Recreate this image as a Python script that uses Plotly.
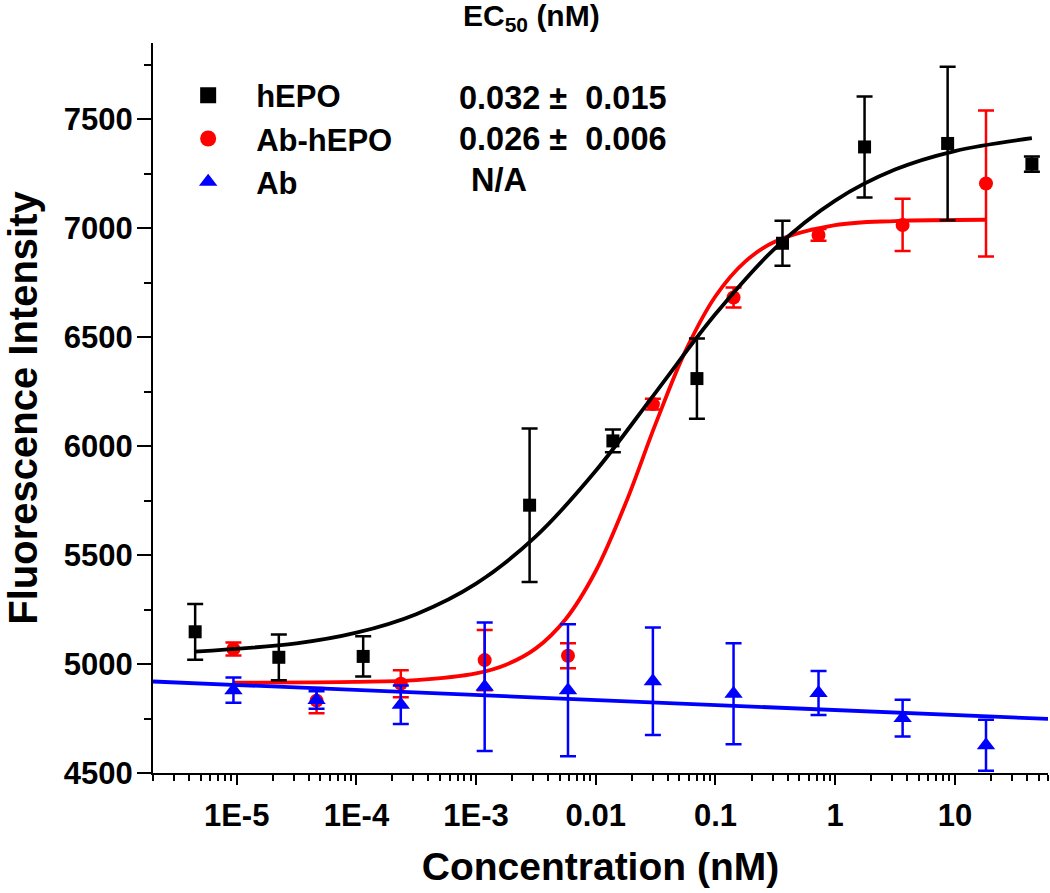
import plotly.graph_objects as go

# ---- data ----
conc_hepo = [4.5e-6, 2.25e-5, 1.14e-4, 2.8e-3, 0.0139, 0.070, 0.363, 1.76, 8.7, 44.0]
fi_hepo = [5148, 5031, 5035, 5729, 6024, 6310, 6931, 7373, 7389, 7294]
err_hepo = [128, 105, 92, 352, 52, 184, 103, 232, 352, 35]

conc_ab = [9.4e-6, 4.65e-5, 2.35e-4, 1.18e-3, 5.86e-3, 0.030, 0.1416, 0.726, 3.66, 18.2]
fi_abhepo = [5069, 4832, 4910, 5018, 5038, 6193, 6682, 6969, 7015, 7205]
err_abhepo = [30, 58, 62, 138, 57, 25, 46, 27, 120, 335]

fi_ab = [4880, 4835, 4813, 4896, 4880, 4921, 4864, 4867, 4752, 4627]
err_ab = [58, 40, 88, 295, 303, 247, 232, 101, 84, 117]

# fitted curves
fit_hepo_x = [4.47e-6, 3.16e-5, 1e-4, 3.16e-4, 1e-3, 3.16e-3, 0.01, 0.0316, 0.1, 0.316, 1, 3.16, 10, 44.0]
fit_hepo_y = [5057, 5095, 5144, 5229, 5369, 5586, 5887, 6246, 6606, 6909, 7127, 7269, 7354, 7413]

fit_abhepo_x = [9.3e-6, 1e-4, 3.16e-4, 1e-3, 1.78e-3, 3.16e-3, 5.62e-3, 0.01, 0.0178, 0.0316,
                0.0562, 0.1, 0.178, 0.316, 1, 3.16, 18.2]
fit_abhepo_y = [4915, 4918, 4926, 4957, 4997, 5072, 5207, 5427, 5739, 6102,
                6437, 6688, 6848, 6939, 7014, 7033, 7039]

fit_ab_x = [2e-6, 60]
fit_ab_y = [4920, 4748]

x_tickvals = [1e-5, 1e-4, 1e-3, 1e-2, 1e-1, 1, 10]
x_ticktext = ["1E-5", "1E-4", "1E-3", "0.01", "0.1", "1", "10"]
y_tickvals = [4500, 5000, 5500, 6000, 6500, 7000, 7500]
y_minor = [4750, 5250, 5750, 6250, 6750, 7250, 7750]

series_names = ["hEPO", "Ab-hEPO", "Ab"]
ec50_rows = ["0.032 \u00b1  0.015", "0.026 \u00b1  0.006", "N/A"]

BLACK = "#000000"
RED = "#ff0000"
BLUE = "#0000ff"
FONT = "Liberation Sans, Arial, sans-serif"
LW = 3.8

fig = go.Figure()

def err(arr, color):
    return dict(type="data", array=arr, visible=True, color=color, thickness=2.5, width=8)

# red
fig.add_trace(go.Scatter(x=fit_abhepo_x, y=fit_abhepo_y, mode="lines",
                         line=dict(color=RED, width=LW, shape="spline"), showlegend=False))
fig.add_trace(go.Scatter(x=conc_ab, y=fi_abhepo, mode="markers", showlegend=False,
                         marker=dict(symbol="circle", size=14, color=RED),
                         error_y=err(err_abhepo, RED)))
# black
fig.add_trace(go.Scatter(x=fit_hepo_x, y=fit_hepo_y, mode="lines",
                         line=dict(color=BLACK, width=LW, shape="spline"), showlegend=False))
fig.add_trace(go.Scatter(x=conc_hepo, y=fi_hepo, mode="markers", showlegend=False,
                         marker=dict(symbol="square", size=13, color=BLACK),
                         error_y=err(err_hepo, BLACK)))
# blue
fig.add_trace(go.Scatter(x=fit_ab_x, y=fit_ab_y, mode="lines",
                         line=dict(color=BLUE, width=LW), showlegend=False))
fig.add_trace(go.Scatter(x=conc_ab, y=fi_ab, mode="markers", showlegend=False,
                         marker=dict(symbol="triangle-up", size=16, color=BLUE),
                         error_y=err(err_ab, BLUE)))

# legend-only entries (larger symbols, like the reference key)
for name, sym, col in zip(series_names, ["square", "circle", "triangle-up"], [BLACK, RED, BLUE]):
    fig.add_trace(go.Scatter(x=[None], y=[None], mode="markers", name=name,
                             marker=dict(symbol=sym, size=16, color=col)))

minor_x = [k * 10.0 ** n for n in range(-6, 2) for k in range(2, 10) if 2e-6 <= k * 10.0 ** n <= 60]

fig.update_xaxes(type="log", range=[-5.699, 1.778],
                 tickmode="array", tickvals=x_tickvals, ticktext=x_ticktext,
                 ticks="outside", ticklen=10, tickwidth=2, tickcolor=BLACK,
                 minor=dict(tickmode="array", tickvals=minor_x, ticks="outside", ticklen=6,
                            tickwidth=2, tickcolor=BLACK, showgrid=False),
                 showline=True, linewidth=2, linecolor=BLACK, showgrid=False, zeroline=False,
                 tickfont=dict(family=FONT, size=31, color=BLACK, weight="bold"),
                 ticklabelstandoff=4,
                 title=dict(text="Concentration (nM)", standoff=20,
                            font=dict(family=FONT, size=39, color=BLACK, weight="bold")))
fig.update_yaxes(range=[4500, 7850], tickmode="array", tickvals=y_tickvals,
                 ticks="outside", ticklen=14, tickwidth=2, tickcolor=BLACK,
                 minor=dict(tickmode="array", tickvals=y_minor, ticks="outside", ticklen=7,
                            tickwidth=2, tickcolor=BLACK, showgrid=False),
                 showline=True, linewidth=2, linecolor=BLACK, showgrid=False, zeroline=False,
                 tickfont=dict(family=FONT, size=31, color=BLACK, weight="bold"),
                 ticklabelstandoff=-2,
                 title=dict(text="Fluorescence Intensity", standoff=14,
                            font=dict(family=FONT, size=40, color=BLACK, weight="bold")))

fig.update_layout(
    width=1050, height=893,
    margin=dict(l=153, r=2, t=43, b=120),
    plot_bgcolor="white", paper_bgcolor="white",
    showlegend=True,
    legend=dict(x=0.008, y=0.965, xanchor="left", yanchor="top",
                itemwidth=86, bgcolor="rgba(0,0,0,0)", borderwidth=0,
                font=dict(family=FONT, size=31, color=BLACK, weight="bold"),
                traceorder="normal"),
)

fig.add_annotation(text="EC<sub>50</sub> (nM)", xref="paper", yref="paper",
                   x=(461 - 153) / 895, y=1 + (43 - 17) / 730, xanchor="left", yanchor="middle",
                   showarrow=False, font=dict(family=FONT, size=30, color=BLACK, weight="bold"))
ec_x = [457, 457, 469]
ec_y = [98, 139, 180]
for txt, px, py in zip(ec50_rows, ec_x, ec_y):
    fig.add_annotation(text=txt.replace("  ", "\u00a0 "), xref="paper", yref="paper",
                       x=(px - 153) / 895, y=1 - (py - 43) / 730,
                       xanchor="left", yanchor="middle", showarrow=False,
                       font=dict(family=FONT, size=32.5, color=BLACK, weight="bold"))

fig.write_html("out.html", config={"displayModeBar": False},
               post_script="document.body.style.margin='0';")
